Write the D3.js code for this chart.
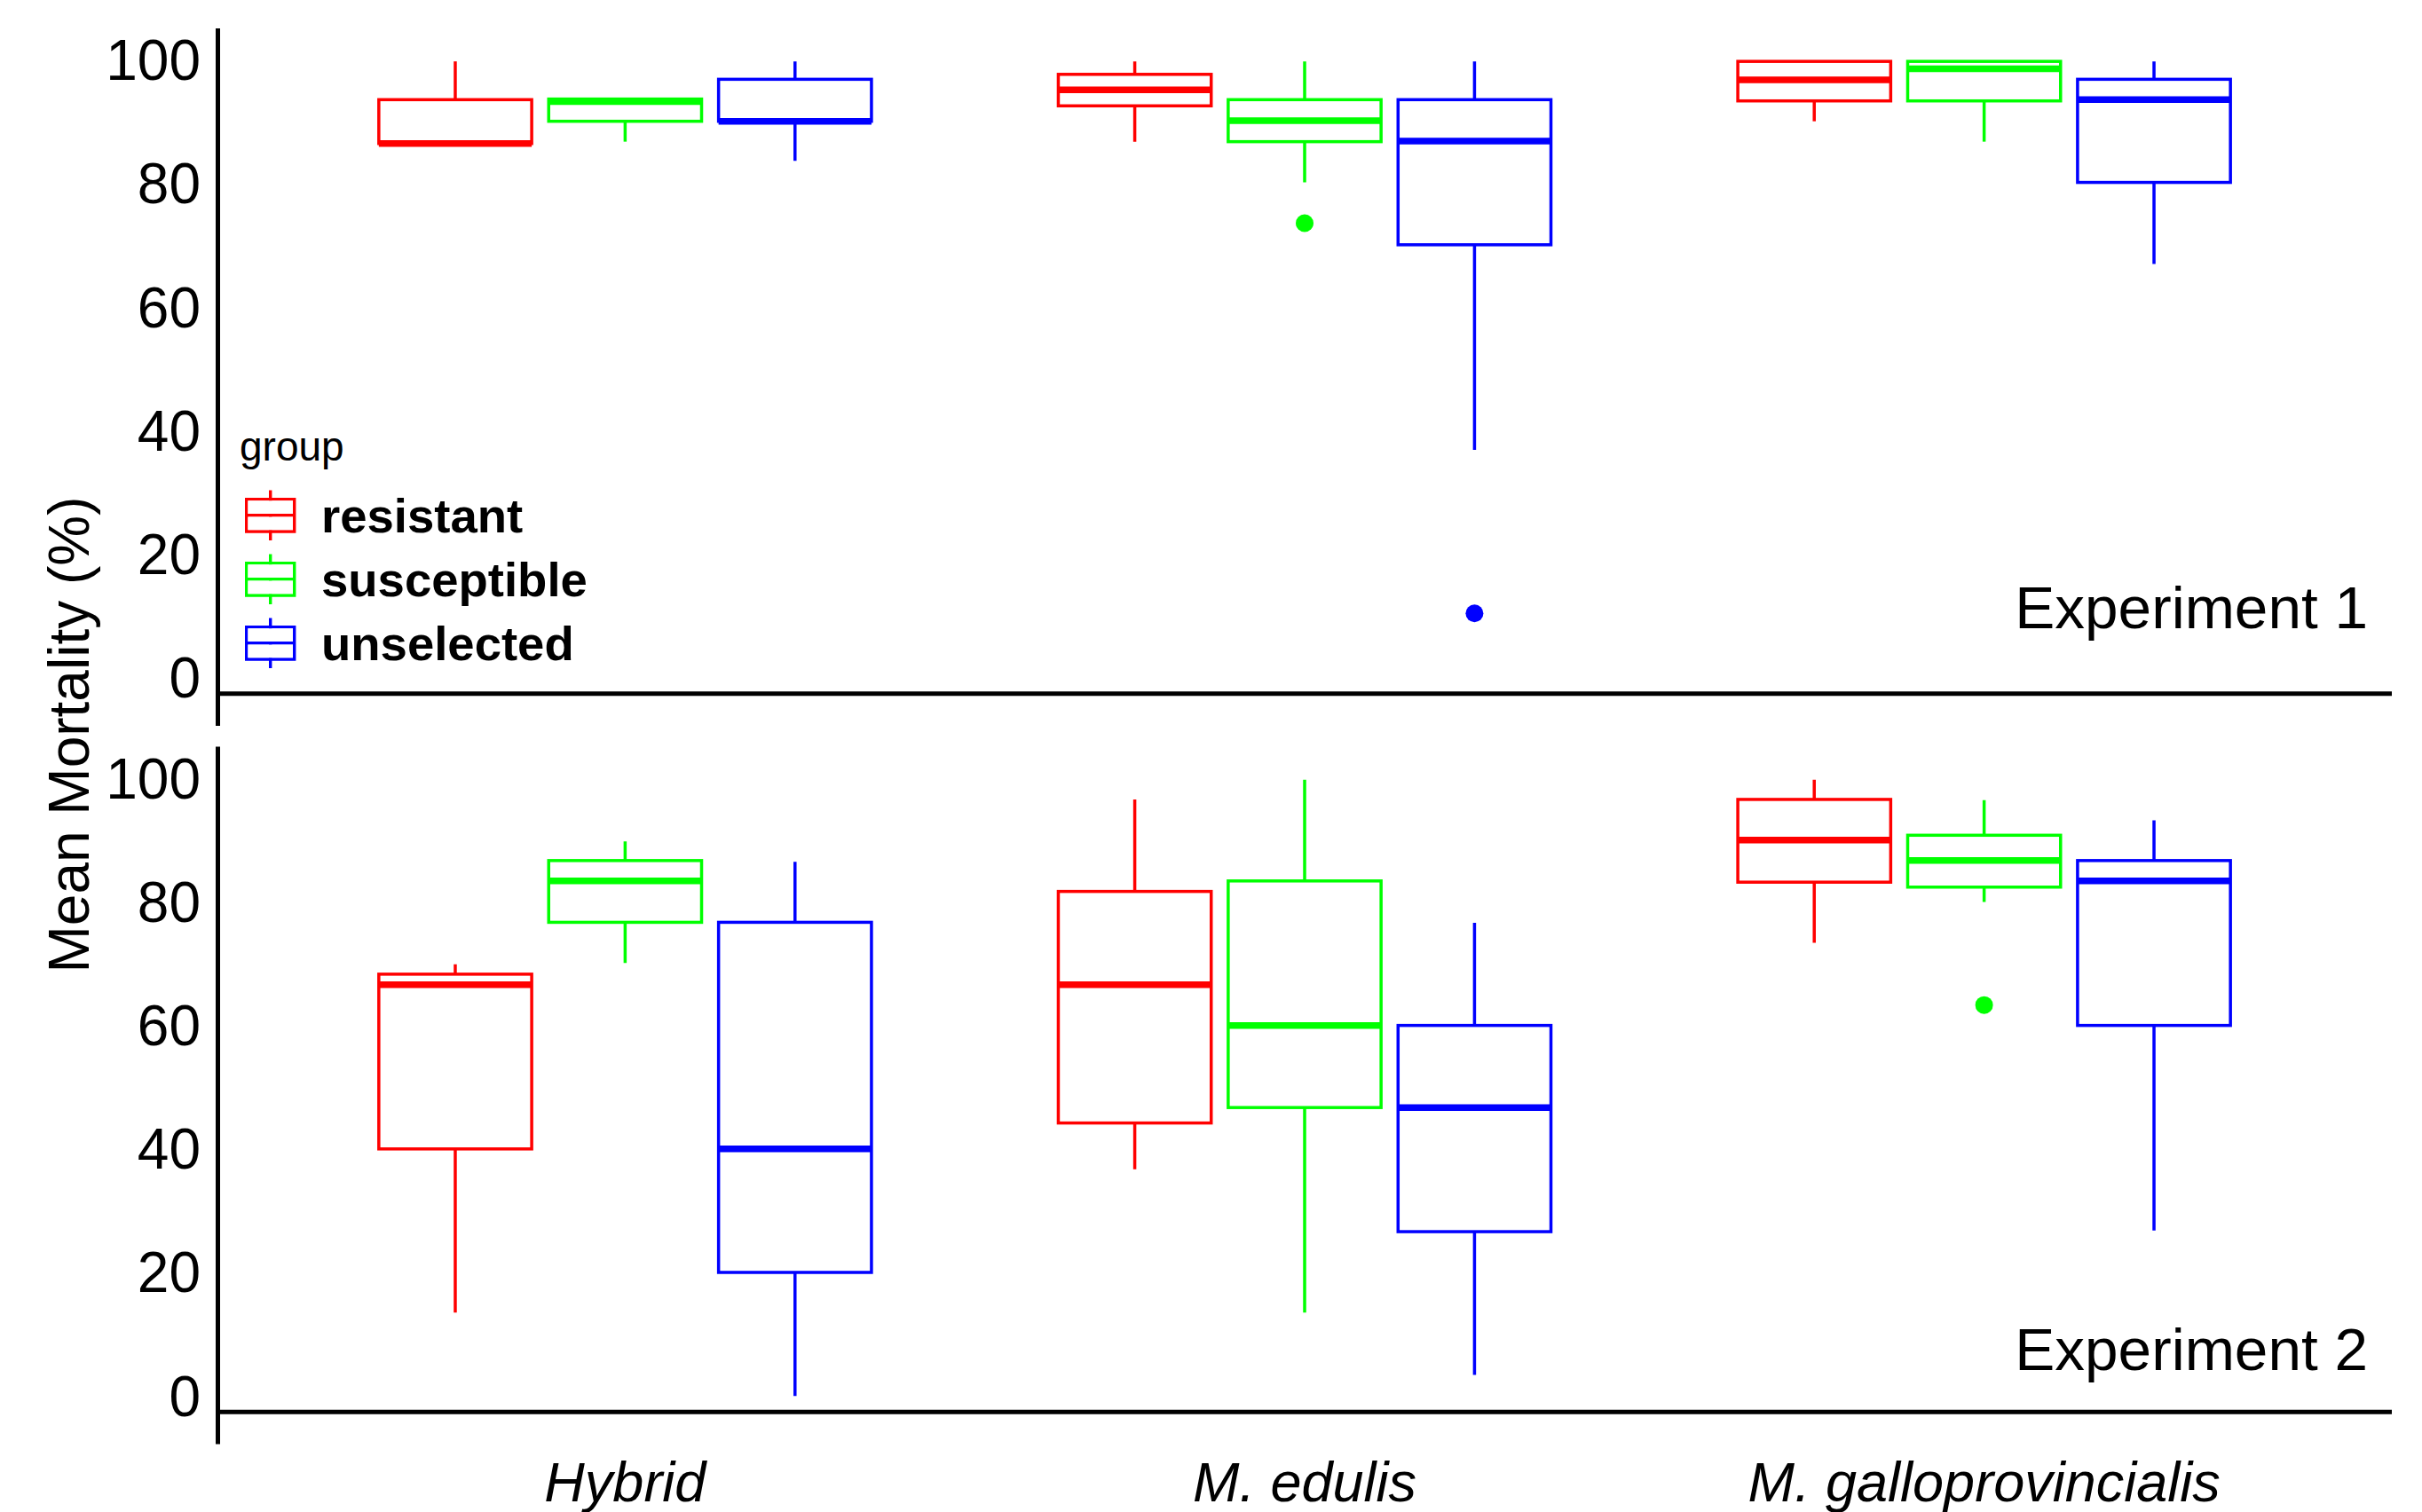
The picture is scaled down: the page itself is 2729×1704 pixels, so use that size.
<!DOCTYPE html>
<html>
<head>
<meta charset="utf-8">
<script src="https://cdn.jsdelivr.net/npm/d3@7"></script>
<style>
  body { margin: 0; background: white; }
  text { font-family: "Liberation Sans", Arial, sans-serif; fill: black; }
</style>
</head>
<body>
<div id="chart"></div>
<script>
const species = ["Hybrid", "M. edulis", "M. galloprovincialis"]
const groups = ["resistant", "susceptible", "unselected"]
const experiments = ["Experiment 1", "Experiment 2"]
const yTicks = [0, 20, 40, 60, 80, 100]

// [min, q1, median, q3, max], species by species, groups in order
const exp1Boxes = [
    [86.7, 86.7, 86.7, 93.8, 100],
    [87.0, 90.3, 93.5, 93.9, 93.9],
    [83.9, 90.3, 90.3, 97.1, 100],
    [87.0, 92.8, 95.4, 97.9, 100],
    [80.4, 87.0, 90.4, 93.8, 100],
    [37.1, 70.3, 87.1, 93.8, 100],
    [90.3, 93.6, 97.0, 100, 100],
    [87.0, 93.6, 98.8, 100, 100],
    [67.2, 80.4, 93.8, 97.1, 100]
]
const exp2Boxes = [
    [13.7, 40.2, 66.8, 68.5, 70.1],
    [70.3, 76.9, 83.6, 86.9, 90.0],
    [0.2, 20.2, 40.2, 76.9, 86.7],
    [36.9, 44.4, 66.8, 81.9, 96.8],
    [13.7, 46.9, 60.2, 83.6, 100],
    [3.6, 26.8, 46.9, 60.2, 76.8],
    [73.6, 83.4, 90.2, 96.8, 100],
    [80.2, 82.6, 86.9, 91.0, 96.7],
    [27.0, 60.2, 83.6, 86.9, 93.4]
]
const exp1Outliers = [["M. edulis", "susceptible", 73.8], ["M. edulis", "unselected", 10.6]]
const exp2Outliers = [["M. galloprovincialis", "susceptible", 63.5]]
// baseline of each experiment label (data units)
const expLabelY = [8.2, 4.4]

const boxplot = function (id) {
    const width = 2729
    const height = 1704
    const panelLeft = 245
    const panelRight = 2695
    const panelTops = [31.6, 841.1]
    const panelHeight = 786
    const baseLine = -2.4

    const color = d3.scaleOrdinal().domain(groups).range(["#ff0000", "#00ff00", "#0000ff"])

    const svg = d3.select("#".concat(id))
        .append("svg")
        .attr("width", width)
        .attr("height", height)
        .attr("viewBox", [0, 0, width, height])

    svg.append("rect")
        .attr("width", width)
        .attr("height", height)
        .style("fill", "white")

    const x = d3.scaleBand()
        .domain(species)
        .range([panelLeft, panelRight])
        .paddingInner(0)
        .paddingOuter(0.1)

    const xg = d3.scaleBand()
        .domain(groups)
        .range([-0.375 * x.step(), 0.375 * x.step()])

    const boxW = xg.bandwidth() * 0.9

    const y = d3.scaleLinear()
        .domain([-7.55, 105.4])
        .range([panelHeight, 0])

    const panels = [exp1Boxes, exp2Boxes].map((rows, p) => ({
        label: experiments[p],
        top: panelTops[p],
        labelY: expLabelY[p],
        boxes: rows.map((v, i) => ({
            sp: species[Math.floor(i / groups.length)],
            grp: groups[i % groups.length],
            min: v[0], q1: v[1], med: v[2], q3: v[3], max: v[4]
        })),
        outliers: [exp1Outliers, exp2Outliers][p]
    }))

    const panel = svg.append("g")
        .selectAll("g")
        .data(panels)
        .join("g")
        .attr("transform", d => `translate(0,${d.top})`)

    // y axis
    panel.append("g")
        .attr("transform", `translate(${panelLeft},0)`)
        .call(d3.axisLeft(y).tickValues(yTicks).tickSize(0).tickPadding(19))
        .call(g => g.select(".domain").attr("stroke", "black").attr("stroke-width", 5))
        .call(g => g.selectAll("text")
            .style("font-size", "64px")
            .style("font-family", "'Liberation Sans', Arial, sans-serif")
            .attr("fill", "black"))

    // baseline
    panel.append("line")
        .attr("x1", panelLeft)
        .attr("x2", panelRight)
        .attr("y1", y(baseLine))
        .attr("y2", y(baseLine))
        .attr("stroke", "black")
        .attr("stroke-width", 5)

    const box = panel.append("g")
        .selectAll("g")
        .data(d => d.boxes)
        .join("g")
        .attr("transform", d => `translate(${x(d.sp) + x.bandwidth() / 2 + xg(d.grp) + xg.bandwidth() / 2},0)`)
        .attr("stroke", d => color(d.grp))
        .attr("fill", "none")

    box.append("path")
        .attr("stroke-width", 3.5)
        .attr("d", d => `M0,${y(d.q3)}V${y(d.max)}M0,${y(d.q1)}V${y(d.min)}`)

    box.append("rect")
        .attr("stroke-width", 3.5)
        .attr("fill", "white")
        .attr("x", -boxW / 2)
        .attr("width", boxW)
        .attr("y", d => y(d.q3))
        .attr("height", d => y(d.q1) - y(d.q3))

    box.append("line")
        .attr("stroke-width", 7.5)
        .attr("x1", -boxW / 2)
        .attr("x2", boxW / 2)
        .attr("y1", d => y(d.med))
        .attr("y2", d => y(d.med))

    panel.append("g")
        .selectAll("circle")
        .data(d => d.outliers)
        .join("circle")
        .attr("r", 10)
        .attr("fill", d => color(d[1]))
        .attr("cx", d => x(d[0]) + x.bandwidth() / 2 + xg(d[1]) + xg.bandwidth() / 2)
        .attr("cy", d => y(d[2]))

    panel.append("text")
        .attr("x", 2668)
        .attr("y", d => y(d.labelY))
        .attr("text-anchor", "end")
        .style("font-size", "67.5px")
        .text(d => d.label)

    // x labels
    svg.append("g")
        .selectAll("text")
        .data(species)
        .join("text")
        .attr("x", d => x(d) + x.bandwidth() / 2)
        .attr("y", 1692)
        .attr("text-anchor", "middle")
        .style("font-size", "63px")
        .style("font-style", "italic")
        .text(d => d)

    // y title
    svg.append("text")
        .attr("transform", "translate(100,828) rotate(-90)")
        .attr("text-anchor", "middle")
        .style("font-size", "64px")
        .text("Mean Mortality (%)")

    // legend
    const legend = svg.append("g")
        .attr("transform", "translate(0,31.6)")

    legend.append("text")
        .attr("x", 270)
        .attr("y", 471)
        .attr("dy", "0.35em")
        .style("font-size", "46px")
        .text("group")

    const key = legend.selectAll("g")
        .data(groups)
        .join("g")
        .attr("transform", (d, i) => `translate(304.7,${549.2 + i * 72})`)

    key.append("path")
        .attr("stroke", d => color(d))
        .attr("stroke-width", 3.4)
        .attr("fill", "none")
        .attr("d", "M0,-28.3V28.3M-27,-18.2H27V18.2H-27ZM-27,0H27")

    key.append("path")
        .attr("stroke", "white")
        .attr("stroke-width", 0)
        .attr("fill", "white")
        .attr("d", "M-25.3,-16.5H25.3V-1.7H-25.3ZM-25.3,1.7H25.3V16.5H-25.3Z")

    key.append("text")
        .attr("x", 362)
        .attr("dy", "0.36em")
        .attr("transform", "translate(-304.7,0)")
        .style("font-size", "54.5px")
        .style("font-weight", "bold")
        .text(d => d)
}

boxplot("chart")
</script>
</body>
</html>
